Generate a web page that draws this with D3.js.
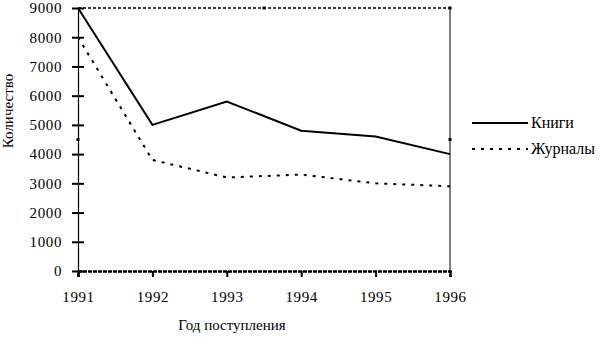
<!DOCTYPE html>
<html><head><meta charset="utf-8">
<script src="https://cdn.jsdelivr.net/npm/d3@7"></script>
<style>body{margin:0;background:#fff}svg{display:block}svg text{font-family:"Times New Roman","Liberation Serif","Noto Serif",serif}</style>
</head><body><svg id="c" width="600" height="337"></svg>
<script>
const years = [1991, 1992, 1993, 1994, 1995, 1996];
const books = [9000, 5000, 5800, 4800, 4600, 4000];
const journals = [8000, 3800, 3200, 3300, 3000, 2900];
const yTicks = [0, 1000, 2000, 3000, 4000, 5000, 6000, 7000, 8000, 9000];
const seriesNames = ["Книги", "Журналы"];

const svg = d3.select("#c");
const x = d3.scaleLinear().domain([1991, 1996]).range([78, 450]);
const y = d3.scaleLinear().domain([0, 9000]).range([271, 8]);

svg.append("line").attr("x1", x(1991)).attr("x2", x(1996)).attr("y1", y(9000)).attr("y2", y(9000))
  .attr("stroke", "#000").attr("stroke-width", 1.5).attr("stroke-dasharray", "3,2");
svg.append("line").attr("x1", x(1996)).attr("x2", x(1996)).attr("y1", y(9000)).attr("y2", y(0))
  .attr("stroke", "#000").attr("stroke-width", 1);
[[x(1993.5), y(9000)], [x(1996), y(9000)], [x(1996), y(4500)], [x(1991), y(4500)]].forEach(p => {
  svg.append("rect").attr("x", p[0] - 1.5).attr("y", p[1] - 1.5).attr("width", 3).attr("height", 3).attr("fill", "#000");
});

const yAxis = d3.axisLeft(y).tickValues(yTicks).tickSize(6).tickPadding(10).tickFormat(d3.format("d"));
const gy = svg.append("g").attr("transform", `translate(${x(1991)},0)`).call(yAxis);
gy.select(".domain").attr("stroke", "#000").attr("stroke-width", 1.2);
gy.selectAll(".tick line").attr("stroke", "#000").attr("stroke-width", 2).attr("x1", 6);
gy.selectAll(".tick text").style("font-size", "15px").attr("letter-spacing", "0.6px");

const xAxis = d3.axisBottom(x).tickValues(years).tickSize(6).tickPadding(14).tickFormat(d3.format("d"));
const gx = svg.append("g").attr("transform", `translate(0,${y(0)})`).call(xAxis);
gx.select(".domain").attr("stroke", "#000").attr("stroke-width", 2.5).attr("stroke-dasharray", "4,1");
gx.selectAll(".tick line").attr("stroke", "#000").attr("stroke-width", 2);
gx.selectAll(".tick text").style("font-size", "15px").attr("letter-spacing", "0.6px");

const line = d3.line().x((d, i) => x(years[i])).y(d => y(d));
svg.append("path").datum(books).attr("d", line).attr("fill", "none").attr("stroke", "#000").attr("stroke-width", 2);
svg.append("path").datum(journals).attr("d", line)
  .attr("fill", "none").attr("stroke", "#000").attr("stroke-width", 2).attr("stroke-dasharray", "3,6");

svg.append("text").attr("x", 232).attr("y", 330).attr("text-anchor", "middle").style("font-size", "15px").text("Год поступления");
svg.append("text").attr("transform", "translate(13,111) rotate(-90)").attr("text-anchor", "middle").style("font-size", "15px").text("Количество");

const lg = svg.append("g");
lg.append("line").attr("x1", 472).attr("x2", 528).attr("y1", 123).attr("y2", 123).attr("stroke", "#000").attr("stroke-width", 2);
lg.append("line").attr("x1", 472).attr("x2", 528).attr("y1", 149).attr("y2", 149).attr("stroke", "#000").attr("stroke-width", 2).attr("stroke-dasharray", "3,6");
lg.append("text").attr("x", 531).attr("y", 128).style("font-size", "16px").text(seriesNames[0]);
lg.append("text").attr("x", 531).attr("y", 154).style("font-size", "16px").text(seriesNames[1]);
</script></body></html>
